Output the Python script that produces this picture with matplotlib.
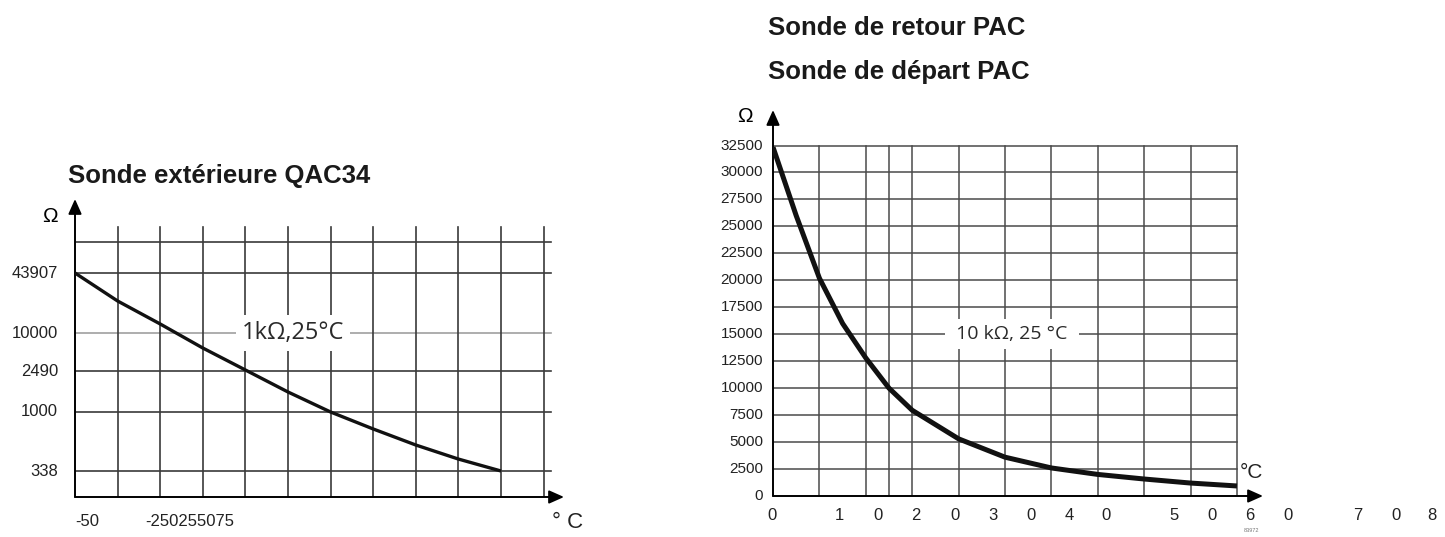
import numpy as np
import matplotlib.pyplot as plt

plt.rcParams['font.family'] = ['Liberation Sans', 'DejaVu Sans']

# ---- left chart: Sonde exterieure QAC34 (1 kOhm at 25 C)
left_title = "Sonde extérieure QAC34"
left_label = "1kΩ,25°C"
left_ticks = [43907, 10000, 2490, 1000, 338]          # labelled resistances
left_tick_pos = [224, 164, 126, 85, 26]               # their gridline height (axis units)
left_top_line = 255
left_temps = [-50, -37.5, -25, -12.5, 0, 12.5, 25, 37.5, 50, 62.5, 75]
left_res = [43907, 22020, 12490, 5774, 2584, 1561, 1000, 732, 545, 421, 338]
left_xlabels = ["-50", "-250255075"]
left_xlabel_pos = [-46.5, -16.3]

# ---- right chart: Sonde de retour / depart PAC (10 kOhm at 25 C)
right_titles = ["Sonde de retour PAC", "Sonde de départ PAC"]
right_label = " 10 kΩ, 25 °C "
right_yticks = np.arange(0, 32501, 2500)
right_vlines = [10, 20, 25, 30, 40, 50, 60, 70, 80, 90, 100]
right_temps = [0, 5, 10, 15, 20, 25, 30, 40, 50, 60, 70, 80, 90, 100]
right_res = [32350, 26000, 20200, 16000, 12800, 10000, 7950, 5300, 3600,
             2600, 2000, 1575, 1200, 930]
right_xlabels = ["0", "1", "0", "2", "0", "3", "0", "4", "0", "5", "0", "6", "0", "7", "0", "8"]
right_xlabel_pos = [-0.2, 14.4, 22.6, 30.8, 39.2, 47.4, 55.6, 63.8, 71.8,
                    86.4, 94.6, 102.8, 111.0, 126.1, 134.3, 142.0]

W, H = 1445, 537
fig = plt.figure(figsize=(W / 100, H / 100), dpi=100)


def px_axes(x0, y0, x1, y1):
    # pixel box (top-left origin) -> figure axes
    ax = fig.add_axes([x0 / W, 1 - y1 / H, (x1 - x0) / W, (y1 - y0) / H])
    ax.set_axis_off()
    return ax


grid_c = '#3a3a3a'

# ================= left =================
axL = px_axes(75, 197, 565, 497)
axL.set_xlim(-50, -50 + 490 / 3.408)
axL.set_ylim(0, 300)

srt = np.argsort(left_ticks)
to_pos = lambda r: np.interp(np.log10(r), np.log10(np.array(left_ticks)[srt]),
                             np.array(left_tick_pos)[srt])

x_end = -50 + 476 / 3.408
for p, v in zip(left_tick_pos, left_ticks):
    c = '#a0a0a0' if v == 10000 else grid_c
    axL.plot([-50, x_end], [p, p], color=c, lw=1.2, zorder=1)
axL.plot([-50, x_end], [left_top_line, left_top_line], color=grid_c, lw=1.2, zorder=1)
for k in range(1, 12):
    axL.plot([-50 + 12.5 * k] * 2, [0, 270], color=grid_c, lw=1.2, zorder=1)

arrow = dict(arrowstyle='-|>,head_length=0.9,head_width=0.4', color='k', lw=1.4,
             shrinkA=0, shrinkB=0)
axL.annotate('', xy=(-50, 298), xytext=(-50, 0), arrowprops=arrow)
axL.annotate('', xy=(-50 + 489 / 3.408, 0), xytext=(-50, 0), arrowprops=arrow)

axL.plot(left_temps, to_pos(left_res), color='#111111', lw=2.4, zorder=3,
         solid_capstyle='butt', solid_joinstyle='round')

for p, v in zip(left_tick_pos, left_ticks):
    axL.text(-50 - 17 / 3.408, p, str(v), ha='right', va='center', fontsize=12,
             color='#222222')
for x, s in zip(left_xlabel_pos, left_xlabels):
    axL.text(x, -25, s, ha='center', va='center', fontsize=12, color='#222222', clip_on=False)

axL.text(14, 164, left_label, ha='center', va='center', fontsize=17, family='Open Sans',
         color='#2a2a2a', zorder=2,
         bbox=dict(boxstyle='square,pad=0.25', fc='white', ec='none'))

fig.text(50 / W, 1 - 217 / H, "Ω", ha='center', va='center', fontsize=15)
fig.text(552 / W, 1 - 522 / H, "° C", ha='left', va='center', fontsize=16, color='#222222')
fig.text(68 / W, 1 - 176 / H, left_title, ha='left', va='center', fontsize=18.5,
         fontweight='bold', color='#1a1a1a')

# ================= right =================
ohm_px = 2500 / 26.96
deg_px = 4.64
axR = px_axes(773, 100, 1275, 496)
axR.set_xlim(0, 502 / deg_px)
axR.set_ylim(0, 396 * ohm_px)

for v in right_yticks[1:]:
    axR.plot([0, 100], [v, v], color='#4a4a4a', lw=1.1, zorder=1)
for x in right_vlines:
    axR.plot([x, x], [0, 32500], color='#4a4a4a', lw=1.1, zorder=1)

axR.annotate('', xy=(0, 386 * ohm_px), xytext=(0, 0), arrowprops=arrow)
axR.annotate('', xy=(490 / deg_px, 0), xytext=(0, 0), arrowprops=arrow)

axR.plot(right_temps, right_res, color='#111111', lw=3.6, zorder=3,
         solid_capstyle='butt', solid_joinstyle='round')

for v in right_yticks:
    axR.text(-10 / deg_px, v, str(v), ha='right', va='center', fontsize=11,
             color='#222222')
for x, s in zip(right_xlabel_pos, right_xlabels):
    axR.text(x, -19 * ohm_px, s, ha='center', va='center', fontsize=12,
             color='#222222', clip_on=False)
axR.text(103.2, -35 * ohm_px, "83972", ha='center', va='center', fontsize=4,
         color='#777777', clip_on=False)

axR.text(51.5, 15000, right_label, ha='center', va='center', fontsize=14,
         family='Open Sans', color='#2a2a2a', zorder=2,
         bbox=dict(boxstyle='square,pad=0.3', fc='white', ec='none'))
axR.text(100.5, 24 * ohm_px, "°C", ha='left', va='center', fontsize=15, color='#222222')

fig.text(745 / W, 1 - 117 / H, "Ω", ha='center', va='center', fontsize=15)
for i, t in enumerate(right_titles):
    fig.text(768 / W, 1 - (28 + 44 * i) / H, t, ha='left', va='center', fontsize=18.5,
             fontweight='bold', color='#1a1a1a')

fig.savefig('out.png', dpi=100, facecolor='white')
